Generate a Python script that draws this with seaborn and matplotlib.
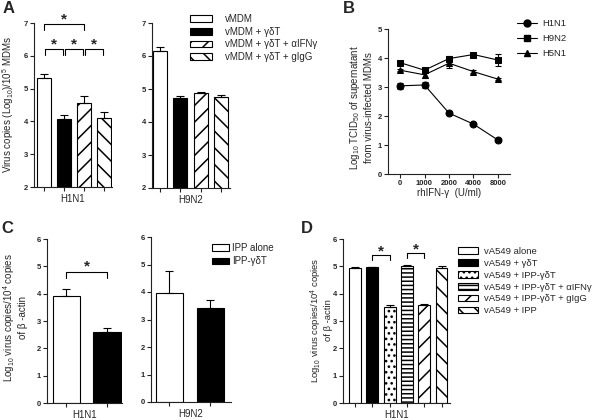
import numpy as np
import pandas as pd
import matplotlib
matplotlib.use("Agg")
import matplotlib.pyplot as plt
import seaborn as sns
from matplotlib.patches import Patch
from matplotlib.lines import Line2D

# ---- Panel A: virus copies in MDMs ----
a_groups = ["vMDM", "vMDM + γδT", "vMDM + γδT + αIFNγ", "vMDM + γδT + gIgG"]
a_h1n1 = [5.32, 4.07, 4.56, 4.10]
a_h1n1_err = [0.12, 0.12, 0.20, 0.18]
a_h9n2 = [6.15, 4.72, 4.87, 4.77]
a_h9n2_err = [0.13, 0.06, 0.05, 0.06]
a_fills = ["white", "black", "white", "white"]
a_hatches = ["", "", "//", "\\\\"]
a_sig = [(0, 2, 6.97), (0, 1, 6.20), (1, 2, 6.20), (2, 3, 6.20)]

# ---- Panel B: TCID50 vs rhIFN-gamma dose ----
b_doses = ["0", "1000", "2000", "4000", "8000"]
b_h1n1 = [3.04, 3.07, 2.10, 1.72, 1.17]
b_h1n1_err = [0.10, 0.10, 0.04, 0.04, 0.04]
b_h9n2 = [3.84, 3.58, 3.98, 4.12, 3.93]
b_h9n2_err = [0.05, 0.06, 0.08, 0.04, 0.22]
b_h5n1 = [3.58, 3.42, 3.82, 3.53, 3.27]
b_h5n1_err = [0.04, 0.10, 0.18, 0.04, 0.04]

# ---- Panel C: IPP-expanded gamma-delta T cells ----
c_groups = ["IPP alone", "IPP-γδT"]
c_h1n1 = [3.92, 2.60]
c_h1n1_err = [0.25, 0.13]
c_h9n2 = [3.97, 3.42]
c_h9n2_err = [0.78, 0.28]
c_fills = ["white", "black"]
c_sig = [(0, 1, 4.80)]

# ---- Panel D: A549 cells ----
d_groups = ["vA549 alone", "vA549 + γδT", "vA549 + IPP-γδT",
            "vA549 + IPP-γδT + αIFNγ", "vA549 + IPP-γδT + gIgG", "vA549 + IPP"]
d_h1n1 = [4.93, 4.96, 3.50, 5.02, 3.59, 4.94]
d_h1n1_err = [0.05, 0.02, 0.07, 0.02, 0.03, 0.07]
d_fills = ["white", "black", "white", "white", "white", "white"]
d_hatches = ["", "", "...", "----", "//", "\\\\"]
d_sig = [(1, 2, 5.42), (3, 4, 5.50)]

sns.set_theme(style="ticks")
plt.rcParams["font.family"] = ["Liberation Sans", "DejaVu Sans"]
plt.rcParams["mathtext.fontset"] = "custom"
plt.rcParams["mathtext.rm"] = "Liberation Sans"
plt.rcParams["mathtext.it"] = "Liberation Sans:italic"
plt.rcParams["hatch.linewidth"] = 1.1
plt.rcParams["hatch.color"] = "black"

W, H = 608, 420
fig = plt.figure(figsize=(W / 100, H / 100), dpi=100)


def add_ax(l, t, r, b):
    return fig.add_axes([l / W, 1 - b / H, (r - l) / W, (b - t) / H])


def style_ax(ax):
    sns.despine(ax=ax)
    for s in ["left", "bottom"]:
        ax.spines[s].set_linewidth(0.8)
        ax.spines[s].set_color("#222222")
    ax.tick_params(length=3, width=0.8, labelsize=5.5, pad=1.2, color="#222222")
    for lbl in ax.get_yticklabels() + ax.get_xticklabels():
        lbl.set_fontweight("bold")


def draw_bars(ax, labels, values, errs, fills, hatches, width):
    df = pd.DataFrame({"group": labels, "value": values})
    sns.barplot(data=df, x="group", y="value", hue="group", palette=fills,
                width=width, saturation=1, edgecolor="black", linewidth=0.8,
                legend=False, errorbar=None, ax=ax)
    for patch, h in zip(ax.patches, hatches):
        patch.set_hatch(h)
    n = len(values)
    ax.errorbar(np.arange(n), values, yerr=[np.zeros(n), errs], fmt="none",
                ecolor="black", elinewidth=0.8, capsize=2.6, capthick=0.8, zorder=5)
    ax.set_xticks(np.arange(n))
    ax.set_xticklabels([])
    ax.set_ylabel("")


def draw_sig(ax, pairs, drop, gap=0.0, lift=0.1):
    for i, j, y in pairs:
        ax.plot([i + gap, i + gap, j - gap, j - gap], [y - drop, y, y, y - drop],
                color="black", lw=0.8, clip_on=False)
        ax.text((i + j) / 2, y + drop * lift, "*", ha="center", va="baseline",
                fontsize=11, fontweight="bold")


def set_group_label(ax, text):
    ax.set_xlabel(text, fontsize=7, labelpad=1)


# ===== Panel A =====
ax = add_ax(34, 23, 112, 187)
draw_bars(ax, a_groups, a_h1n1, a_h1n1_err, a_fills, a_hatches, 0.69)
ax.set_xlim(-0.47, 3.37)
ax.set_ylim(2, 7)
ax.set_yticks(range(2, 8))
draw_sig(ax, a_sig[:1], 0.17, lift=0.15)
draw_sig(ax, a_sig[1:], 0.17, gap=0.05, lift=0.15)
set_group_label(ax, "H1N1")
ax.set_ylabel("Virus copies (Log$_{10}$)/10$^5$ MDMs", fontsize=7, va="center", ha="center")
ax.yaxis.set_label_coords(-0.335, 0.5)
style_ax(ax)

ax = add_ax(152, 23, 230, 188)
draw_bars(ax, a_groups, a_h9n2, a_h9n2_err, a_fills, a_hatches, 0.69)
ax.set_xlim(-0.39, 3.45)
ax.set_ylim(2, 7)
ax.set_yticks(range(2, 8))
set_group_label(ax, "H9N2")
style_ax(ax)

a_handles = [Patch(facecolor=f, edgecolor="black", hatch=h, linewidth=0.8)
             for f, h in zip(a_fills, a_hatches)]
fig.legend(a_handles, a_groups, loc="upper left", bbox_to_anchor=(190 / W, 1 - 14 / H),
           frameon=False, fontsize=7, handlelength=2.3, handleheight=0.7,
           handletextpad=1.3, labelspacing=0.28, borderpad=0, borderaxespad=0)

# ===== Panel B =====
ax = add_ax(388, 29, 510, 174)
pos = np.arange(len(b_doses))
for vals, errs, mk, name in [(b_h1n1, b_h1n1_err, "o", "H1N1"),
                             (b_h9n2, b_h9n2_err, "s", "H9N2"),
                             (b_h5n1, b_h5n1_err, "^", "H5N1")]:
    sns.lineplot(x=pos, y=vals, marker=mk, color="black", lw=0.8, markersize=5,
                 markeredgecolor="black", ax=ax, label=name, legend=False)
    ax.errorbar(pos, vals, yerr=errs, fmt="none", ecolor="black", elinewidth=0.8,
                capsize=2.5, capthick=0.8)
ax.set_xlim(-0.49, 4.49)
ax.set_ylim(0, 5)
ax.set_yticks(range(0, 6))
ax.set_xticks(pos)
ax.set_xticklabels(b_doses)
ax.set_xlabel("rhIFN-γ  (U/ml)", fontsize=7, labelpad=1)
ax.set_ylabel("Log$_{10}$ TCID$_{50}$ of supernatant\nfrom virus-infected MDMs",
              fontsize=7, va="center", ha="center", multialignment="center")
ax.yaxis.set_label_coords(-0.22, 0.46)
style_ax(ax)

b_handles = [Line2D([0], [0], color="black", lw=0.8, marker=m, markersize=5)
             for m in ["o", "s", "^"]]
fig.legend(b_handles, ["H1N1", "H9N2", "H5N1"], loc="upper left",
           bbox_to_anchor=(517 / W, 1 - 19 / H), frameon=False, fontsize=6.8,
           handlelength=2.1, handletextpad=0.6, labelspacing=0.65,
           borderpad=0, borderaxespad=0)

# ===== Panel C =====
c_ylabel = "Log$_{10}$ virus copies/10$^4$ copies\nof β -actin"
ax = add_ax(47, 239, 122, 403)
draw_bars(ax, c_groups, c_h1n1, c_h1n1_err, c_fills, ["", ""], 0.67)
ax.set_xlim(-0.48, 1.37)
ax.set_ylim(0, 6)
ax.set_yticks(range(0, 7))
draw_sig(ax, c_sig, 0.22, lift=0.3)
set_group_label(ax, "H1N1")
ax.set_ylabel(c_ylabel, fontsize=7, va="center", ha="center", multialignment="center",
              linespacing=1.1)
ax.yaxis.set_label_coords(-0.43, 0.52)
style_ax(ax)

ax = add_ax(151, 237, 231, 402)
draw_bars(ax, c_groups, c_h9n2, c_h9n2_err, c_fills, ["", ""], 0.66)
ax.set_xlim(-0.45, 1.5)
ax.set_ylim(0, 6)
ax.set_yticks(range(0, 7))
set_group_label(ax, "H9N2")
style_ax(ax)

c_handles = [Patch(facecolor=f, edgecolor="black", linewidth=0.8) for f in c_fills]
fig.legend(c_handles, c_groups, loc="upper left", bbox_to_anchor=(212 / W, 1 - 243 / H),
           frameon=False, fontsize=7, handlelength=1.7, handleheight=0.7,
           handletextpad=0.4, labelspacing=0.35, borderpad=0, borderaxespad=0)

# ===== Panel D =====
ax = add_ax(343, 239, 450, 403)
draw_bars(ax, d_groups, d_h1n1, d_h1n1_err, d_fills, d_hatches, 0.69)
ax.set_xlim(-0.69, 5.49)
ax.set_ylim(0, 6)
ax.set_yticks(range(0, 7))
draw_sig(ax, d_sig, 0.18, lift=-0.1)
set_group_label(ax, "H1N1")
ax.set_ylabel(c_ylabel, fontsize=6.8, va="center", ha="center", multialignment="center",
              linespacing=1.05)
ax.yaxis.set_label_coords(-0.205, 0.506)
style_ax(ax)

d_handles = [Patch(facecolor=f, edgecolor="black", hatch=h, linewidth=0.8)
             for f, h in zip(d_fills, d_hatches)]
fig.legend(d_handles, d_groups, loc="upper left", bbox_to_anchor=(458 / W, 1 - 247 / H),
           frameon=False, fontsize=6.8, handlelength=2.1, handleheight=0.7,
           handletextpad=0.7, labelspacing=0.3, borderpad=0, borderaxespad=0)

# panel letters
for letter, x, y in [("A", 3, 1), ("B", 343, 1), ("C", 1, 221), ("D", 301, 221)]:
    fig.text(x / W, 1 - y / H, letter, fontsize=12, fontweight="bold", ha="left", va="top")

fig.savefig("out.png", dpi=100)
